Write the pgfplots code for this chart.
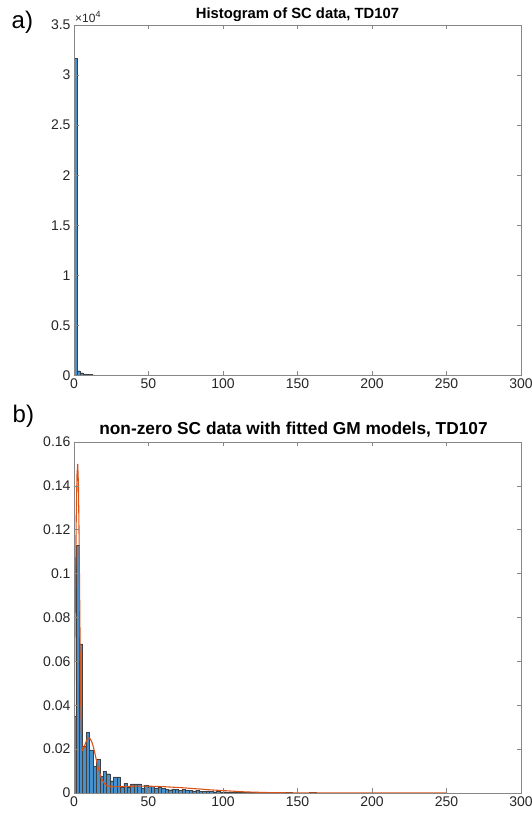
\documentclass[border=0pt]{standalone}
\usepackage{fontspec}
\setmainfont{Liberation Sans}
\usepackage{pgfplots}
\pgfplotsset{compat=1.18}
\definecolor{mblue}{RGB}{70,145,205}
\definecolor{morange}{RGB}{217,83,25}
\definecolor{tickgray}{RGB}{38,38,38}
\definecolor{framegray}{RGB}{135,135,135}
\pgfplotsset{mstyle/.style={
  scale only axis, width=447pt,
  xmin=0, xmax=300, ymin=0,
  axis on top,
  scaled x ticks=false, scaled y ticks=false,
  axis line style={framegray, line width=0.6pt},
  tick style={framegray, line width=0.6pt},
  major tick length=4.5pt, tick align=inside,
  xtick={0,50,100,150,200,250,300},
  xticklabels={0,50,100,150,200,250,300},
  tick label style={font=\fontsize{14}{16}\selectfont, text=tickgray},
  every axis title shift=0pt,
  title style={at={(0.5,1)}, anchor=base, font=\bfseries, text=black},
}}
\begin{document}
\begin{tikzpicture}
\path[use as bounding box] (0,0) rectangle (532pt,816pt);
% ---------- a) ----------
\begin{axis}[mstyle, at={(74pt,440.5pt)}, anchor=south west, height=350.5pt,
  ymax=35000,
  ytick={0,5000,10000,15000,20000,25000,30000,35000},
  yticklabels={0,0.5,1,1.5,2,2.5,3,3.5},
  title style={yshift=6pt, font=\bfseries\fontsize{14.8}{16}\selectfont},
  title={Histogram of SC data, TD107}]
\addplot[ybar interval, fill=mblue, draw=black!75, line width=0.35pt] coordinates {
(0,31700) (2,480) (4,280) (6,170) (8,115) (10,85) (12,62) (14,48) (16,38) (18,30)
(20,24) (22,20) (24,16) (26,13) (28,11) (30,9) (32,8) (34,6) (36,5) (38,4) (40,4)
(42,3) (44,2) (46,2) (48,1) (50,1)};
\end{axis}
% ---------- b) ----------
\begin{axis}[mstyle, at={(74pt,23pt)}, anchor=south west, height=351pt,
  ymax=0.16,
  ytick={0,0.02,0.04,0.06,0.08,0.1,0.12,0.14,0.16},
  yticklabels={0,0.02,0.04,0.06,0.08,0.1,0.12,0.14,0.16},
  title style={yshift=7pt, xshift=-4pt, font=\bfseries\fontsize{17.3}{19}\selectfont},
  title={non-zero SC data with fitted GM models, TD107}]
\addplot[ybar interval, fill=mblue, draw=black!75, line width=0.35pt] coordinates {
(-1.1,0.035) (1.2,0.113) (3.5,0.068) (5.8,0.0215) (8.1,0.0276) (10.4,0.0197)
(12.7,0.012) (15.0,0.0152) (17.3,0.0076) (19.6,0.0098) (21.9,0.0088) (24.2,0.0056)
(26.5,0.0073) (28.8,0.0073) (31.1,0.0027) (33.4,0.0045) (35.7,0.0027) (38.0,0.0042)
(40.3,0.0042) (42.6,0.0042) (44.9,0.0023) (47.2,0.0035) (49.5,0.0030) (51.8,0.0030)
(54.1,0.0023) (56.4,0.0026) (58.7,0.0022) (61.0,0.0018) (63.3,0.0015) (65.6,0.0019)
(67.9,0.0016) (70.2,0.0013) (72.5,0.0017) (74.8,0.0014) (77.1,0.0012) (79.4,0.0010)
(81.7,0.0013) (84.0,0.0009) (86.3,0.0008) (88.6,0.0010) (90.9,0.0007) (93.2,0.0006)
(95.5,0.0008) (97.8,0.0005) (100.1,0.0006) (102.4,0.0004) (104.7,0.0005) (107.0,0.0003)
(109.3,0.0004) (111.6,0.0003) (113.9,0.0002) (116.2,0.0003) (118.5,0.0002) (120.8,0.0002)
(123.1,0.0001) (125.4,0) (127.7,0.0003) (130.0,0.0002) (132.3,0.0003) (134.6,0.0001)
(136.9,0) (139.2,0) (141.5,0.0002) (143.8,0.0003) (146.1,0.0001) (148.4,0)
(150.7,0) (153.0,0) (155.3,0) (157.6,0.0002) (159.9,0.0002) (162.2,0)};
\addplot[morange, line width=1.1pt] coordinates {
(0,0.035) (0.5,0.062) (1.0,0.095) (1.5,0.125) (2.0,0.145) (2.5,0.150) (3.0,0.140)
(3.5,0.112) (4.0,0.075) (4.5,0.042) (5.0,0.024) (5.5,0.0195) (6,0.0195) (6.5,0.0203)
(7,0.0213) (8,0.0232) (9,0.0246) (10,0.0251) (11,0.0246) (12,0.0232) (13,0.021)
(14,0.0182) (15,0.015) (16,0.0122) (17,0.0097) (18,0.0076) (19,0.0059) (20,0.0047)
(21,0.0039) (22,0.0034) (24,0.0030) (26,0.0029) (28,0.0029) (30,0.0029) (35,0.0030)
(40,0.0031) (45,0.0031) (50,0.0031) (55,0.0030) (60,0.0029) (65,0.0027) (70,0.0025)
(75,0.0023) (80,0.0020) (85,0.0018) (90,0.0015) (95,0.0013) (100,0.0011) (105,0.0009)
(110,0.0007) (115,0.0005) (120,0.0004) (130,0.0002) (140,0.0001) (150,0.00005)
(160,0.00002) (180,0) (250,0)};
\end{axis}
\node[anchor=base west, font=\fontsize{12}{13}\selectfont, text=tickgray, inner sep=0pt]
  at (75pt,793.3pt) {×10\raisebox{0.42em}{\fontsize{9}{10}\selectfont 4}};
\node[anchor=base west, font=\fontsize{24}{26}\selectfont, inner sep=0pt] at (11.5pt,787.7pt) {a)};
\node[anchor=base west, font=\fontsize{24}{26}\selectfont, inner sep=0pt] at (12.5pt,393pt) {b)};
\end{tikzpicture}
\end{document}
